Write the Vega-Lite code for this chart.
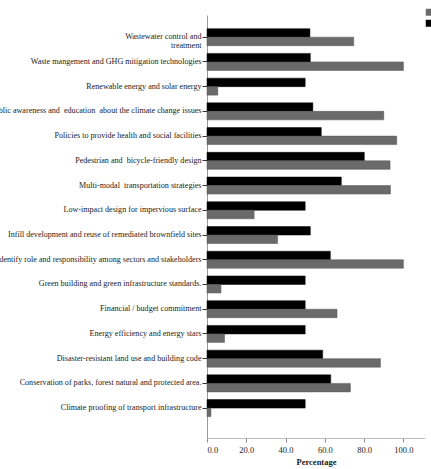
{
  "$schema": "https://vega.github.io/schema/vega-lite/v6.json",
  "autosize": {"type": "none"},
  "padding": {"left": 207, "top": 15, "right": 6, "bottom": 31},
  "width": 218,
  "height": 423,
  "background": "white",
  "data": {
    "values": [
      {"item": "Wastewater control and treatment", "group": "B", "pct": 52.4},
      {"item": "Wastewater control and treatment", "group": "A", "pct": 74.7},
      {"item": "Waste mangement and GHG mitigation technologies", "group": "B", "pct": 52.6},
      {"item": "Waste mangement and GHG mitigation technologies", "group": "A", "pct": 100.0},
      {"item": "Renewable energy and solar energy", "group": "B", "pct": 50.0},
      {"item": "Renewable energy and solar energy", "group": "A", "pct": 5.5},
      {"item": "Public awareness and \u00a0education \u00a0about the climate change issues", "group": "B", "pct": 53.9},
      {"item": "Public awareness and \u00a0education \u00a0about the climate change issues", "group": "A", "pct": 90.0},
      {"item": "Policies to provide health and social facilities", "group": "B", "pct": 58.2},
      {"item": "Policies to provide health and social facilities", "group": "A", "pct": 96.6},
      {"item": "Pedestrian and \u00a0bicycle-friendly design", "group": "B", "pct": 80.1},
      {"item": "Pedestrian and \u00a0bicycle-friendly design", "group": "A", "pct": 93.2},
      {"item": "Multi-modal \u00a0transportation strategies", "group": "B", "pct": 68.4},
      {"item": "Multi-modal \u00a0transportation strategies", "group": "A", "pct": 93.4},
      {"item": "Low-impact design for impervious surface", "group": "B", "pct": 50.0},
      {"item": "Low-impact design for impervious surface", "group": "A", "pct": 24.0},
      {"item": "Infill development and reuse of remediated brownfield sites", "group": "B", "pct": 52.6},
      {"item": "Infill development and reuse of remediated brownfield sites", "group": "A", "pct": 35.9},
      {"item": "Identify role and responsibility among sectors and stakeholders", "group": "B", "pct": 62.8},
      {"item": "Identify role and responsibility among sectors and stakeholders", "group": "A", "pct": 100.0},
      {"item": "Green building and green infrastructure standards.", "group": "B", "pct": 50.0},
      {"item": "Green building and green infrastructure standards.", "group": "A", "pct": 7.1},
      {"item": "Financial / budget commitment", "group": "B", "pct": 50.0},
      {"item": "Financial / budget commitment", "group": "A", "pct": 66.2},
      {"item": "Energy efficiency and energy stars", "group": "B", "pct": 50.0},
      {"item": "Energy efficiency and energy stars", "group": "A", "pct": 8.9},
      {"item": "Disaster-resistant land use and building code", "group": "B", "pct": 58.9},
      {"item": "Disaster-resistant land use and building code", "group": "A", "pct": 88.3},
      {"item": "Conservation of parks, forest natural and protected area.", "group": "B", "pct": 63.0},
      {"item": "Conservation of parks, forest natural and protected area.", "group": "A", "pct": 73.0},
      {"item": "Climate proofing of transport infrastructure", "group": "B", "pct": 50.0},
      {"item": "Climate proofing of transport infrastructure", "group": "A", "pct": 2.0}
    ]
  },
  "mark": {"type": "bar", "strokeWidth": 0.5},
  "encoding": {
    "y": {
      "field": "item",
      "type": "nominal",
      "sort": null,
      "scale": {"paddingInner": 0.312, "paddingOuter": 0.709, "align": 0.39},
      "axis": {
        "title": null,
        "labelFontSize": 8.1,
        "labelColor": "#222222",
        "labelLimit": 400,
        "labelPadding": 1,
        "labelLineHeight": 8.5,
        "labelExpr": "datum.label == 'Wastewater control and treatment' ? ['Wastewater control and', 'treatment'] : datum.label",
        "tickSize": 5,
        "tickColor": "#333333",
        "domainColor": "#999999",
        "grid": false
      }
    },
    "yOffset": {
      "field": "group",
      "type": "nominal",
      "sort": ["B", "A"],
      "scale": {"paddingInner": 0, "paddingOuter": 0}
    },
    "x": {
      "field": "pct",
      "type": "quantitative",
      "scale": {"domain": [0, 111], "nice": false},
      "axis": {
        "title": "Percentage",
        "titleFontSize": 8.5,
        "titleFontWeight": "bold",
        "titleColor": "#222222",
        "titlePadding": 4,
        "values": [0, 20, 40, 60, 80, 100],
        "format": ".1f",
        "labelFontSize": 8.5,
        "labelColor": "#222222",
        "labelPadding": 3,
        "tickSize": 4,
        "tickColor": "#888888",
        "domainColor": "#bbbbbb",
        "grid": false
      }
    },
    "color": {
      "field": "group",
      "type": "nominal",
      "scale": {"domain": ["A", "B"], "range": ["#6a6a6a", "#000000"]},
      "legend": {
        "title": null,
        "orient": "none",
        "legendX": 218,
        "legendY": -7,
        "symbolType": "square",
        "symbolSize": 49,
        "symbolStrokeWidth": 0,
        "labelFontSize": 8.5,
        "rowPadding": 2
      }
    },
    "stroke": {
      "field": "group",
      "type": "nominal",
      "scale": {"domain": ["A", "B"], "range": ["#555555", "#000000"]},
      "legend": null
    }
  },
  "config": {
    "font": "Liberation Serif",
    "axis": {"labelFont": "Liberation Serif", "titleFont": "Liberation Serif"},
    "legend": {"labelFont": "Liberation Serif"},
    "view": {"stroke": null}
  }
}
